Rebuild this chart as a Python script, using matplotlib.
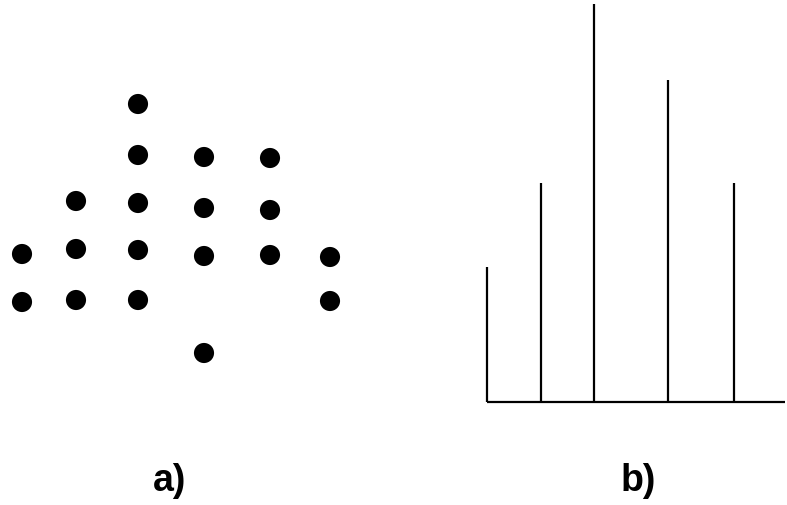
import matplotlib
matplotlib.use("Agg")
import matplotlib.pyplot as plt

# a) dot diagram: column positions and dot heights (pixel units, y grows downward)
dot_cols = [22, 76, 138, 204, 270, 330]
dot_rows = [
    [254, 302],
    [201, 249, 300],
    [104, 155, 203, 250, 300],
    [157, 208, 256, 353],
    [158, 210, 255],
    [257, 301],
]

# b) stem diagram: positions and top of each line
stem_x = [487, 541, 594, 668, 734]
stem_top = [267, 183, 4, 80, 183]
base_y = 402
base_x = [487, 785]

labels = ["a)", "b)"]
label_x = [170, 638]
label_y = 481

fig = plt.figure(figsize=(7.87, 5.05), dpi=100)
ax = fig.add_axes([0, 0, 1, 1])
ax.set_xlim(0, 787)
ax.set_ylim(505, 0)
ax.axis("off")

for x, ys in zip(dot_cols, dot_rows):
    ax.scatter([x] * len(ys), ys, s=210, color="black", edgecolors="none")

ax.vlines(stem_x, stem_top, base_y, color="black", linewidth=1.6)
ax.hlines(base_y, base_x[0], base_x[1], color="black", linewidth=1.6)

for t, x in zip(labels, label_x):
    ax.text(x, label_y, t, ha="center", va="center", fontsize=27,
            fontweight="bold", family="Liberation Sans")

fig.savefig("out.png", dpi=100, facecolor="white")
